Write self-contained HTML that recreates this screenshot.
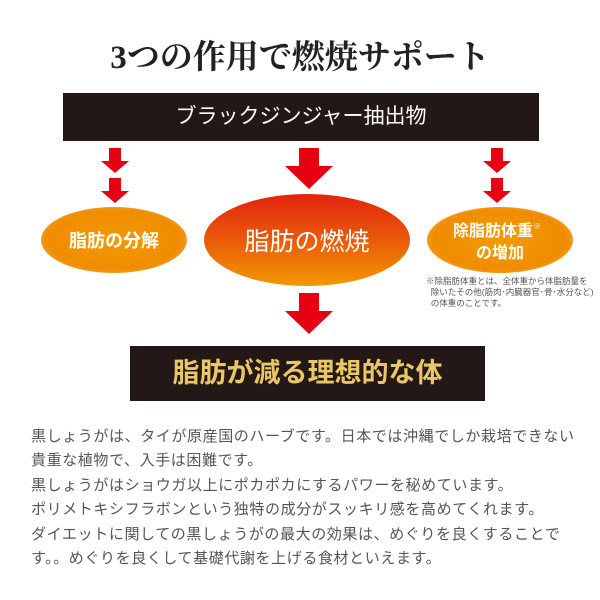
<!DOCTYPE html>
<html><head><meta charset="utf-8"><style>
body{margin:0;width:600px;height:600px;background:#fff;position:relative;overflow:hidden;font-family:"Liberation Sans","Noto Sans CJK JP",sans-serif}
.a{position:absolute}
.t{position:absolute;left:0;width:600px;text-align:center;top:36px;font-family:"Liberation Serif","Noto Serif CJK SC",serif;font-weight:bold;font-size:33px;color:#222;line-height:44px}
.bar{position:absolute;left:63px;top:93px;width:476px;height:48px;background:#231815;color:#fff;text-align:center;font-size:21px;line-height:48px}
.bar2{position:absolute;left:130px;top:346px;width:355px;height:55px;background:#231815;color:#e9c766;text-align:center;font-size:27px;font-weight:bold;line-height:55px}
.body{position:absolute;left:31px;top:425px;font-size:15px;color:#555;line-height:24.4px;letter-spacing:0.6px;white-space:nowrap}
.note{position:absolute;left:426px;top:276px;font-size:8.5px;color:#555;line-height:11px;white-space:nowrap}
</style></head><body>
<div class="t">3つの作用で燃焼サポート</div>
<div class="bar">ブラックジンジャー抽出物</div>
<svg class="a" style="left:0;top:0" width="600" height="600">
<defs>
<radialGradient id="o" cx="50%" cy="50%" r="60%"><stop offset="0" stop-color="#f39a00"/><stop offset="0.75" stop-color="#f08c00"/><stop offset="1" stop-color="#f6b04a"/></radialGradient>
<linearGradient id="c" x1="0" y1="0" x2="0" y2="1"><stop offset="0" stop-color="#e3230f"/><stop offset="0.5" stop-color="#ea5a0a"/><stop offset="1" stop-color="#f39800"/></linearGradient>
</defs>
<g fill="#e60012">
<path d="M109 148h12v13h8l-14 12l-14-12h8z"/>
<path d="M109 178h12v13h8l-14 12l-14-12h8z"/>
<path d="M299 148h20v18h14l-24 23l-24-23h14z"/>
<path d="M491 148h12v13h8l-14 12l-14-12h8z"/>
<path d="M491 178h12v13h8l-14 12l-14-12h8z"/>
<path d="M299 293h20v18h14l-24 23l-24-23h14z"/>
</g>
<ellipse cx="114" cy="240" rx="73" ry="33" fill="url(#o)"/>
<ellipse cx="307" cy="240" rx="103" ry="46" fill="url(#c)"/>
<ellipse cx="500" cy="240" rx="73" ry="33" fill="url(#o)"/>
<g fill="#fff" font-family="Liberation Sans,Noto Sans CJK JP,sans-serif" text-anchor="middle">
<text x="114" y="247" font-size="18" font-weight="bold">脂肪の分解</text>
<text x="307" y="250" font-size="25">脂肪の燃焼</text>
<text x="497" y="236" font-size="16" font-weight="bold">除脂肪体重<tspan font-size="8" dy="-7">※</tspan></text>
<text x="500" y="258" font-size="16" font-weight="bold">の増加</text>
</g>
</svg>
<div class="note">※除脂肪体重とは、全体重から体脂肪量を<br>&nbsp;&nbsp;除いたその他(筋肉･内臓器官･骨･水分など)<br>&nbsp;&nbsp;の体重のことです。</div>
<div class="bar2">脂肪が減る理想的な体</div>
<div class="body">黒しょうがは、タイが原産国のハーブです。日本では沖縄でしか栽培できない<br>貴重な植物で、入手は困難です。<br>黒しょうがはショウガ以上にポカポカにするパワーを秘めています。<br>ポリメトキシフラボンという独特の成分がスッキリ感を高めてくれます。<br>ダイエットに関しての黒しょうがの最大の効果は、めぐりを良くすることで<br>す。。めぐりを良くして基礎代謝を上げる食材といえます。</div>
</body></html>
